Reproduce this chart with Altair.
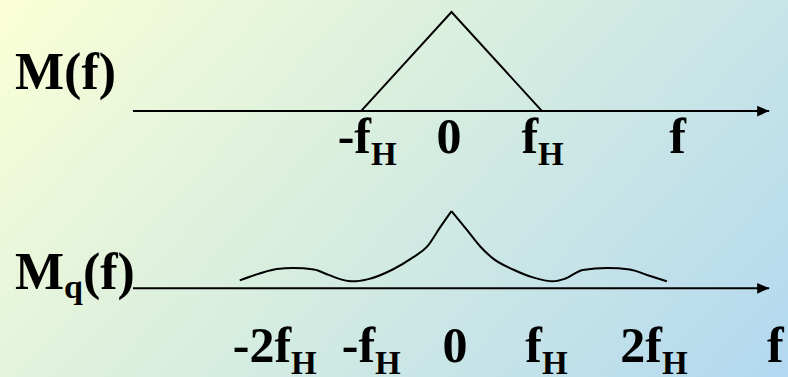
import altair as alt
import pandas as pd

# ---- data (frequency in units of f_H, amplitude normalised to the M(f) peak) ----
tri_f = [-1.0, 0.0, 1.0]
tri_m = [0.0, 1.0, 0.0]

mq_left_f = [-2.34, -2.12, -1.93, -1.75, -1.52, -1.36, -1.20, -1.09, -0.93, -0.65, -0.43, -0.27, -0.13, 0.0]
mq_left_m = [0.08, 0.15, 0.195, 0.205, 0.19, 0.135, 0.085, 0.07, 0.09, 0.19, 0.31, 0.42, 0.61, 0.78]
mq_right_f = [0.0, 0.17, 0.32, 0.46, 0.68, 0.90, 1.12, 1.25, 1.45, 1.72, 1.97, 2.16, 2.38]
mq_right_m = [0.78, 0.59, 0.42, 0.30, 0.19, 0.11, 0.07, 0.095, 0.185, 0.205, 0.19, 0.135, 0.07]

# tick labels: main text, subscript, anchor position on the f axis
top_main = ["-f", "0", "f", "f"]
top_sub = ["H", "", "H", ""]
top_pos = [-0.89, 0.11, 0.956, 2.59]

bot_main = ["-2f", "-f", "0", "f", "2f", "f"]
bot_sub = ["H", "H", "", "H", "H", ""]
bot_pos = [-1.773, -0.845, 0.176, 1.0, 2.326, 3.67]

# ---- layout ----
W, H = 788, 377
X_MIN, X_MAX = -4.989, 3.718
Y_MIN, Y_MAX = -0.896, 2.912
TOP_LEVEL, BOT_LEVEL = 1.79, 0.0
AXIS_START, AXIS_END = -3.52, 3.51
FONT = "Liberation Serif"

xs = alt.Scale(domain=[X_MIN, X_MAX], nice=False, zero=False)
ys = alt.Scale(domain=[Y_MIN, Y_MAX], nice=False, zero=False)


def X(field="f"):
    return alt.X(f"{field}:Q", scale=xs, axis=None)


def Y(field="m"):
    return alt.Y(f"{field}:Q", scale=ys, axis=None)


# background panel
bg_df = pd.DataFrame({"f": [X_MIN], "f2": [X_MAX], "m": [Y_MIN], "m2": [Y_MAX]})
gradient = alt.LinearGradient(
    gradient="linear",
    stops=[
        alt.GradientStop(color="#FBFFD6", offset=0),
        alt.GradientStop(color="#D8EEDF", offset=0.45),
        alt.GradientStop(color="#B3D8F0", offset=1),
    ],
    x1=0, y1=0, x2=1.2, y2=0.52,
)
background = alt.Chart(bg_df).mark_rect(fill=gradient, strokeWidth=0).encode(
    x=X("f"), x2="f2", y=Y("m"), y2="m2"
)

# frequency axes with arrowheads
axes_df = pd.DataFrame({
    "f": [AXIS_START, AXIS_START],
    "f2": [AXIS_END, AXIS_END],
    "m": [TOP_LEVEL, BOT_LEVEL],
})
axis_lines = alt.Chart(axes_df).mark_rule(color="black", strokeWidth=2).encode(
    x=X("f"), x2="f2", y=Y("m")
)
arrows = alt.Chart(axes_df).mark_point(
    shape="M-1,-0.45L0,0L-1,0.45Z", filled=True, color="black", opacity=1, size=576
).encode(x=X("f2"), y=Y("m"))

# M(f): triangular spectrum
tri_df = pd.DataFrame({"f": tri_f, "m": [TOP_LEVEL + v for v in tri_m]})
triangle = alt.Chart(tri_df).mark_line(color="black", strokeWidth=2).encode(
    x=X(), y=Y(), order="f:Q"
)

# Mq(f): quantisation noise spectrum
mq_df = pd.concat([
    pd.DataFrame({"f": mq_left_f, "m": [BOT_LEVEL + v for v in mq_left_m], "side": "left"}),
    pd.DataFrame({"f": mq_right_f, "m": [BOT_LEVEL + v for v in mq_right_m], "side": "right"}),
])
mq_curve = alt.Chart(mq_df).mark_line(
    color="black", strokeWidth=2, interpolate="monotone"
).encode(x=X(), y=Y(), detail="side:N", order="f:Q")

# tick labels
main_rows, sub_rows = [], []
for texts, subs, pos, y_main, y_sub in [
    (top_main, top_sub, top_pos, TOP_LEVEL - 0.424, TOP_LEVEL - 0.546),
    (bot_main, bot_sub, bot_pos, BOT_LEVEL - 0.744, BOT_LEVEL - 0.866),
]:
    for t, s, p in zip(texts, subs, pos):
        main_rows.append({"f": p, "m": y_main, "t": t})
        if s:
            sub_rows.append({"f": p, "m": y_sub, "t": s})

label_main = alt.Chart(pd.DataFrame(main_rows)).mark_text(
    font=FONT, fontWeight="bold", fontSize=50, align="right", baseline="alphabetic", color="black"
).encode(x=X(), y=Y(), text="t:N")
label_sub = alt.Chart(pd.DataFrame(sub_rows)).mark_text(
    font=FONT, fontWeight="bold", fontSize=33, align="left", baseline="alphabetic", color="black"
).encode(x=X(), y=Y(), text="t:N")

# function names on the left
title_df = pd.DataFrame({
    "f": [-4.823, -4.823, -4.072, -4.282],
    "m": [TOP_LEVEL + 0.223, BOT_LEVEL - 0.01, BOT_LEVEL - 0.01, BOT_LEVEL - 0.098],
    "t": ["M(f)", "M", "(f)", "q"],
    "s": [52, 52, 52, 34],
})
titles = alt.Chart(title_df).mark_text(
    font=FONT, fontWeight="bold", align="left", baseline="alphabetic", color="black"
).encode(x=X(), y=Y(), text="t:N", size=alt.Size("s:Q", scale=None, legend=None))

chart = alt.layer(
    background, axis_lines, arrows, triangle, mq_curve, label_main, label_sub, titles
).properties(
    width=W, height=H, padding=0, autosize=alt.AutoSizeParams(type="none")
).configure_view(stroke="transparent")

chart.save("out.html", embed_options={"renderer": "svg", "actions": False})
